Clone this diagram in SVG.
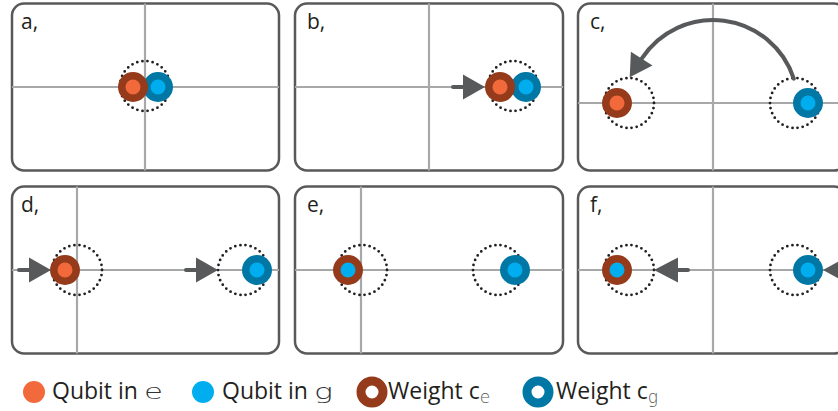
<svg xmlns="http://www.w3.org/2000/svg" width="838" height="411" viewBox="0 0 838 411">
<style>
.box{fill:#fff;stroke:#595959;stroke-width:2.5}
.grid{stroke:#a7a8aa;stroke-width:2.2;fill:none}
.dot{fill:none;stroke:#231f20;stroke-width:2.8;stroke-dasharray:0 5.2;stroke-linecap:round}
.we{fill:#f26a3b;stroke:#953b1b;stroke-width:7.5}
.wg{fill:#00aeef;stroke:#0077a4;stroke-width:7.5}
.weg{fill:#00aeef;stroke:#953b1b;stroke-width:7.5}
.arr{stroke:#58595b;stroke-width:4;stroke-linecap:round;fill:none}
.head{fill:#58595b}
.lbl{font-family:"Open Sans","Noto Sans",sans-serif;font-size:21px;fill:#231f20}
.leg{font-family:"Open Sans","Noto Sans",sans-serif;font-size:23px;fill:#231f20}
.thin{font-family:"DejaVu Sans","Noto Sans",sans-serif;font-weight:200;font-size:22px;fill:#333}
.sub{font-family:"DejaVu Sans","Noto Sans",sans-serif;font-weight:200;font-size:17px;fill:#555}
</style>

<g id="panel-a">
<rect class="box" x="12" y="3.5" width="267" height="167" rx="12"/>
<line class="grid" x1="145" y1="3.5" x2="145" y2="170.5"/>
<line class="grid" x1="12" y1="87" x2="279" y2="87"/>
<circle class="dot" cx="145" cy="86" r="25"/>
<circle class="wg" cx="158" cy="87" r="11.25"/>
<circle class="we" cx="133" cy="87" r="11.25"/>
<text class="lbl" x="21" y="29">a,</text>
</g>

<g id="panel-b">
<rect class="box" x="295" y="3.5" width="268" height="167" rx="12"/>
<line class="grid" x1="429" y1="3.5" x2="429" y2="170.5"/>
<line class="grid" x1="295" y1="87" x2="563" y2="87"/>
<circle class="dot" cx="513" cy="86" r="25"/>
<circle class="wg" cx="526" cy="87" r="11.25"/>
<circle class="we" cx="500" cy="87" r="11.25"/>
<text class="lbl" x="307" y="29">b,</text>
</g>

<g id="panel-c">
<rect class="box" x="578" y="3.5" width="268" height="167" rx="12"/>
<line class="grid" x1="713" y1="3.5" x2="713" y2="170.5"/>
<line class="grid" x1="578" y1="103" x2="846" y2="103"/>
<circle class="dot" cx="629" cy="103" r="25"/>
<circle class="dot" cx="795" cy="103" r="25"/>
<circle class="we" cx="617" cy="103" r="11.25"/>
<circle class="wg" cx="808" cy="103" r="11.25"/>
<text class="lbl" x="590" y="29">c,</text>
</g>

<g id="panel-d">
<rect class="box" x="12" y="186.5" width="267" height="167" rx="12"/>
<line class="grid" x1="77" y1="186.5" x2="77" y2="353.5"/>
<line class="grid" x1="12" y1="270" x2="279" y2="270"/>
<circle class="dot" cx="77" cy="270" r="25"/>
<circle class="dot" cx="243" cy="270" r="25"/>
<circle class="we" cx="65" cy="270" r="11.25"/>
<circle class="wg" cx="257" cy="270" r="11.25"/>
<text class="lbl" x="21" y="212">d,</text>
</g>

<g id="panel-e">
<rect class="box" x="295" y="186.5" width="268" height="167" rx="12"/>
<line class="grid" x1="361" y1="186.5" x2="361" y2="353.5"/>
<line class="grid" x1="295" y1="270" x2="563" y2="270"/>
<circle class="dot" cx="362" cy="270" r="25"/>
<circle class="dot" cx="498" cy="270" r="25"/>
<circle class="weg" cx="348" cy="270" r="11.25"/>
<circle class="wg" cx="515" cy="270" r="11.25"/>
<text class="lbl" x="307" y="212">e,</text>
</g>

<g id="panel-f">
<rect class="box" x="578" y="186.5" width="268" height="167" rx="12"/>
<line class="grid" x1="713" y1="186.5" x2="713" y2="353.5"/>
<line class="grid" x1="578" y1="270" x2="846" y2="270"/>
<circle class="dot" cx="629" cy="270" r="25"/>
<circle class="dot" cx="795" cy="270" r="25"/>
<circle class="weg" cx="617" cy="270" r="11.25"/>
<circle class="wg" cx="808" cy="270" r="11.25"/>
<text class="lbl" x="590" y="212">f,</text>
</g>

<g id="connectors">
<line class="arr" x1="453" y1="87" x2="466" y2="87"/>
<polygon class="head" points="463,74.5 485,87 463,99.5"/>
<path class="arr" d="M793.8,78.7 A85,85 0 0 0 641.7,58.7" stroke-width="5.5" stroke-linecap="butt"/>
<polygon class="head" points="652.5,65.6 629.7,77.2 630.9,51.8"/>
<line class="arr" x1="19" y1="270" x2="32" y2="270"/>
<polygon class="head" points="29,257.5 51,270 29,282.5"/>
<line class="arr" x1="186" y1="270" x2="199" y2="270"/>
<polygon class="head" points="196,257.5 218,270 196,282.5"/>
<line class="arr" x1="688" y1="270" x2="675" y2="270"/>
<polygon class="head" points="678,257.5 654,270 678,282.5"/>
<polygon class="head" points="846,257.5 823,270 846,282.5"/>
</g>

<g id="legend">
<circle cx="34" cy="392" r="11" fill="#f26a3b"/>
<text class="leg" x="52" y="399">Qubit in</text>
<text class="thin" x="144" y="399" textLength="19" lengthAdjust="spacingAndGlyphs">e</text>
<circle cx="203" cy="392" r="11" fill="#00aeef"/>
<text class="leg" x="222" y="399">Qubit in</text>
<text class="thin" x="314" y="399" textLength="19" lengthAdjust="spacingAndGlyphs">g</text>
<circle cx="372" cy="392" r="11" fill="#fff" stroke="#953b1b" stroke-width="9"/>
<text class="leg" x="388" y="399">Weight c<tspan class="sub" dy="4">e</tspan></text>
<circle cx="538" cy="392" r="11" fill="#fff" stroke="#0077a4" stroke-width="9"/>
<text class="leg" x="556" y="399">Weight c<tspan class="sub" dy="4">g</tspan></text>
</g>
</svg>
